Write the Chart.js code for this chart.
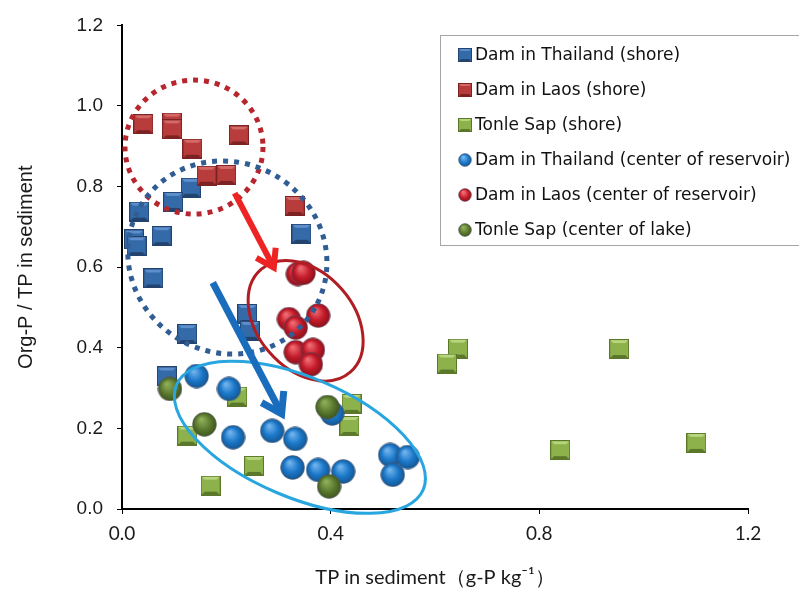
<!DOCTYPE html>
<html>
<head>
<meta charset="utf-8">
<script src="https://cdn.jsdelivr.net/npm/chart.js@4"></script>
<style>
  html, body { margin: 0; padding: 0; background: #fff; }
  #wrap { width: 799px; height: 592px; }
</style>
</head>
<body>
<div id="wrap"><canvas id="chart" width="799" height="592"></canvas></div>
<script>
// series labels
const seriesNames = [
  'Dam in Thailand (shore)',
  'Dam in Laos (shore)',
  'Tonle Sap (shore)',
  'Dam in Thailand (center of reservoir)',
  'Dam in Laos (center of reservoir)',
  'Tonle Sap (center of lake)'
];

// TP (x) and Org-P/TP (y)
const thaiShoreX = [0.132, 0.098, 0.033, 0.023, 0.028, 0.076, 0.344, 0.060, 0.125, 0.240, 0.245, 0.086];
const thaiShoreY = [0.797, 0.762, 0.738, 0.669, 0.652, 0.677, 0.683, 0.572, 0.434, 0.484, 0.442, 0.329];

const laosShoreX = [0.041, 0.096, 0.096, 0.135, 0.224, 0.162, 0.200, 0.331];
const laosShoreY = [0.955, 0.959, 0.942, 0.894, 0.927, 0.827, 0.829, 0.752];

const tonleShoreX = [0.221, 0.125, 0.440, 0.436, 0.253, 0.170, 0.644, 0.623, 0.953, 0.840, 1.101];
const tonleShoreY = [0.279, 0.182, 0.261, 0.206, 0.107, 0.058, 0.398, 0.361, 0.397, 0.146, 0.164];

const thaiCenterX = [0.143, 0.205, 0.213, 0.288, 0.332, 0.403, 0.327, 0.376, 0.424, 0.514, 0.548, 0.519];
const thaiCenterY = [0.330, 0.298, 0.178, 0.194, 0.174, 0.237, 0.103, 0.097, 0.093, 0.134, 0.129, 0.085];

const laosCenterX = [0.337, 0.348, 0.320, 0.333, 0.376, 0.333, 0.366, 0.362];
const laosCenterY = [0.583, 0.586, 0.471, 0.450, 0.480, 0.389, 0.395, 0.359];

const tonleCenterX = [0.092, 0.158, 0.394, 0.397];
const tonleCenterY = [0.298, 0.210, 0.253, 0.056];

const xTicks = [0, 0.4, 0.8, 1.2];
const yTicks = [0, 0.2, 0.4, 0.6, 0.8, 1.0, 1.2];

// marker images (excel-like bevel squares and shaded balls)
function makeSquare(size, base, light, dark) {
  const c = document.createElement('canvas');
  c.width = size; c.height = size;
  const g = c.getContext('2d');
  const b = Math.max(2, Math.round(size * 0.14));
  g.fillStyle = dark;
  g.fillRect(0, 0, size, size);
  g.fillStyle = base;
  g.fillRect(1, 1, size - 2, size - 2);
  // top bevel
  g.fillStyle = light;
  g.beginPath();
  g.moveTo(1, 1); g.lineTo(size - 1, 1); g.lineTo(size - 1 - b, 1 + b); g.lineTo(1 + b, 1 + b);
  g.closePath(); g.fill();
  // bottom bevel
  g.fillStyle = dark;
  g.beginPath();
  g.moveTo(1, size - 1); g.lineTo(size - 1, size - 1); g.lineTo(size - 1 - b, size - 1 - b); g.lineTo(1 + b, size - 1 - b);
  g.closePath(); g.fill();
  return c;
}

function makeBall(size, base, light, dark) {
  const c = document.createElement('canvas');
  c.width = size; c.height = size;
  const g = c.getContext('2d');
  const r = size / 2;
  const grad = g.createRadialGradient(r * 0.75, r * 0.6, 1, r, r, r);
  grad.addColorStop(0, light);
  grad.addColorStop(0.55, base);
  grad.addColorStop(1, dark);
  g.fillStyle = grad;
  g.beginPath();
  g.arc(r, r, r - 0.6, 0, Math.PI * 2);
  g.fill();
  g.strokeStyle = 'rgba(90,90,110,0.55)';
  g.lineWidth = 1;
  g.stroke();
  return c;
}

const palette = [
  {kind: 'sq', base: '#356aa9', light: '#5d8fcf', dark: '#22436e'},
  {kind: 'sq', base: '#b93c3c', light: '#d46a68', dark: '#7c2223'},
  {kind: 'sq', base: '#8db24b', light: '#b7d57c', dark: '#5a772a'},
  {kind: 'ball', base: '#1b78c9', light: '#6fb2ec', dark: '#14548e'},
  {kind: 'ball', base: '#c51b2a', light: '#ee6a72', dark: '#86101a'},
  {kind: 'ball', base: '#5d7c30', light: '#8fae5a', dark: '#3b521d'}
];

function marker(p, size) {
  return p.kind === 'sq'
    ? makeSquare(size, p.base, p.light, p.dark)
    : makeBall(size, p.base, p.light, p.dark);
}

const xs = [thaiShoreX, laosShoreX, tonleShoreX, thaiCenterX, laosCenterX, tonleCenterX];
const ys = [thaiShoreY, laosShoreY, tonleShoreY, thaiCenterY, laosCenterY, tonleCenterY];

const datasets = seriesNames.map((name, i) => ({
  label: name,
  data: xs[i].map((x, k) => ({x: x, y: ys[i][k]})),
  pointStyle: marker(palette[i], palette[i].kind === 'sq' ? 20 : 25),
  pointRadius: 12,
  pointHoverRadius: 12,
  order: 6 - i   // later series on top, as in the original
}));

// hand-drawn overlays of the figure (centres in data units)
const ovals = [
  {cx: 0.138, cy: 0.898, rx: 69, ry: 67, rot: 0, color: '#b8262d', width: 5, dash: [5, 6]},
  {cx: 0.202, cy: 0.624, rx: 101, ry: 95, rot: 30, color: '#2f5d94', width: 5, dash: [5, 6]},
  {cx: 0.352, cy: 0.467, rx: 68, ry: 48, rot: 49, color: '#b01e24', width: 3, dash: []},
  {cx: 0.341, cy: 0.178, rx: 134, ry: 60, rot: 23, color: '#29a6df', width: 3, dash: []}
];
const arrows = [
  {x1: 0.216, y1: 0.784, x2: 0.291, y2: 0.599, color: '#ee2424', width: 6, head: 20},
  {x1: 0.174, y1: 0.562, x2: 0.306, y2: 0.236, color: '#1a6dbd', width: 7, head: 23}
];

const overlayPlugin = {
  id: 'overlay',
  afterDatasetsDraw(chart) {
    const {ctx, scales: {x, y}} = chart;
    ctx.save();
    ovals.forEach(o => {
      ctx.beginPath();
      ctx.setLineDash(o.dash);
      ctx.lineDashOffset = 0;
      ctx.lineWidth = o.width;
      ctx.strokeStyle = o.color;
      ctx.ellipse(x.getPixelForValue(o.cx), y.getPixelForValue(o.cy), o.rx, o.ry, o.rot * Math.PI / 180, 0, Math.PI * 2);
      ctx.stroke();
    });
    ctx.setLineDash([]);
    arrows.forEach(a => {
      const x1 = x.getPixelForValue(a.x1), y1 = y.getPixelForValue(a.y1);
      const x2 = x.getPixelForValue(a.x2), y2 = y.getPixelForValue(a.y2);
      const ang = Math.atan2(y2 - y1, x2 - x1);
      ctx.strokeStyle = a.color;
      ctx.lineWidth = a.width;
      ctx.lineCap = 'butt';
      ctx.lineJoin = 'miter';
      ctx.beginPath();
      ctx.moveTo(x1, y1);
      ctx.lineTo(x2 - Math.cos(ang) * 3, y2 - Math.sin(ang) * 3);
      ctx.stroke();
      const sp = 33 * Math.PI / 180;
      ctx.beginPath();
      ctx.moveTo(x2 - a.head * Math.cos(ang - sp), y2 - a.head * Math.sin(ang - sp));
      ctx.lineTo(x2, y2);
      ctx.lineTo(x2 - a.head * Math.cos(ang + sp), y2 - a.head * Math.sin(ang + sp));
      ctx.stroke();
    });
    ctx.restore();
  }
};

// legend box drawn inside the plot, like the original
const legendMarkers = palette.map(p => marker(p, 14));
const boxLegend = {
  id: 'boxLegend',
  afterDraw(chart) {
    const ctx = chart.ctx;
    ctx.save();
    ctx.fillStyle = '#fff';
    ctx.fillRect(440.5, 35.5, 380, 210);
    ctx.strokeStyle = '#a6a6a6';
    ctx.lineWidth = 1;
    ctx.strokeRect(440.5, 35.5, 380, 210);
    ctx.font = '17px "DejaVu Sans"';
    ctx.fillStyle = '#111';
    ctx.textBaseline = 'middle';
    chart.data.datasets.forEach((ds, i) => {
      const cy = 55 + i * 35;
      ctx.drawImage(legendMarkers[i], 458, cy - 7);
      ctx.fillText(ds.label, 475, cy + 1);
    });
    ctx.restore();
  }
};

new Chart(document.getElementById('chart'), {
  type: 'scatter',
  data: {datasets: datasets},
  options: {
    responsive: false,
    animation: false,
    layout: {padding: {top: 17, right: 51, left: 0, bottom: 0}},
    plugins: {
      legend: {display: false},
      tooltip: {enabled: false}
    },
    scales: {
      x: {
        type: 'linear',
        min: 0,
        max: 1.2,
        afterBuildTicks: s => { s.ticks = xTicks.map(v => ({value: v})); },
        afterFit: s => { s.height = 83; },
        grid: {drawOnChartArea: false, drawTicks: true, tickLength: 5, color: '#000'},
        border: {display: true, color: '#000', width: 2},
        ticks: {
          padding: 8,
          color: '#1a1a1a',
          font: {family: 'Lato', size: 19},
          callback: v => v.toFixed(1)
        },
        title: {
          display: true,
          text: 'TP in sediment（g-P kg⁻¹）',
          color: '#1a1a1a',
          font: {family: 'Lato', size: 20},
          padding: {top: 0, bottom: 2}
        }
      },
      y: {
        type: 'linear',
        min: 0,
        max: 1.2,
        afterBuildTicks: s => { s.ticks = yTicks.map(v => ({value: v})); },
        afterFit: s => { s.width = 122; },
        grid: {drawOnChartArea: false, drawTicks: true, tickLength: 5, color: '#000'},
        border: {display: true, color: '#000', width: 2},
        ticks: {
          padding: 14,
          color: '#1a1a1a',
          font: {family: 'Liberation Sans', size: 19},
          callback: v => v.toFixed(1)
        },
        title: {
          display: true,
          text: 'Org-P / TP in sediment',
          color: '#1a1a1a',
          font: {family: 'Liberation Sans', size: 20},
          padding: {top: 14, bottom: 0}
        }
      }
    }
  },
  plugins: [overlayPlugin, boxLegend]
});
</script>
</body>
</html>
